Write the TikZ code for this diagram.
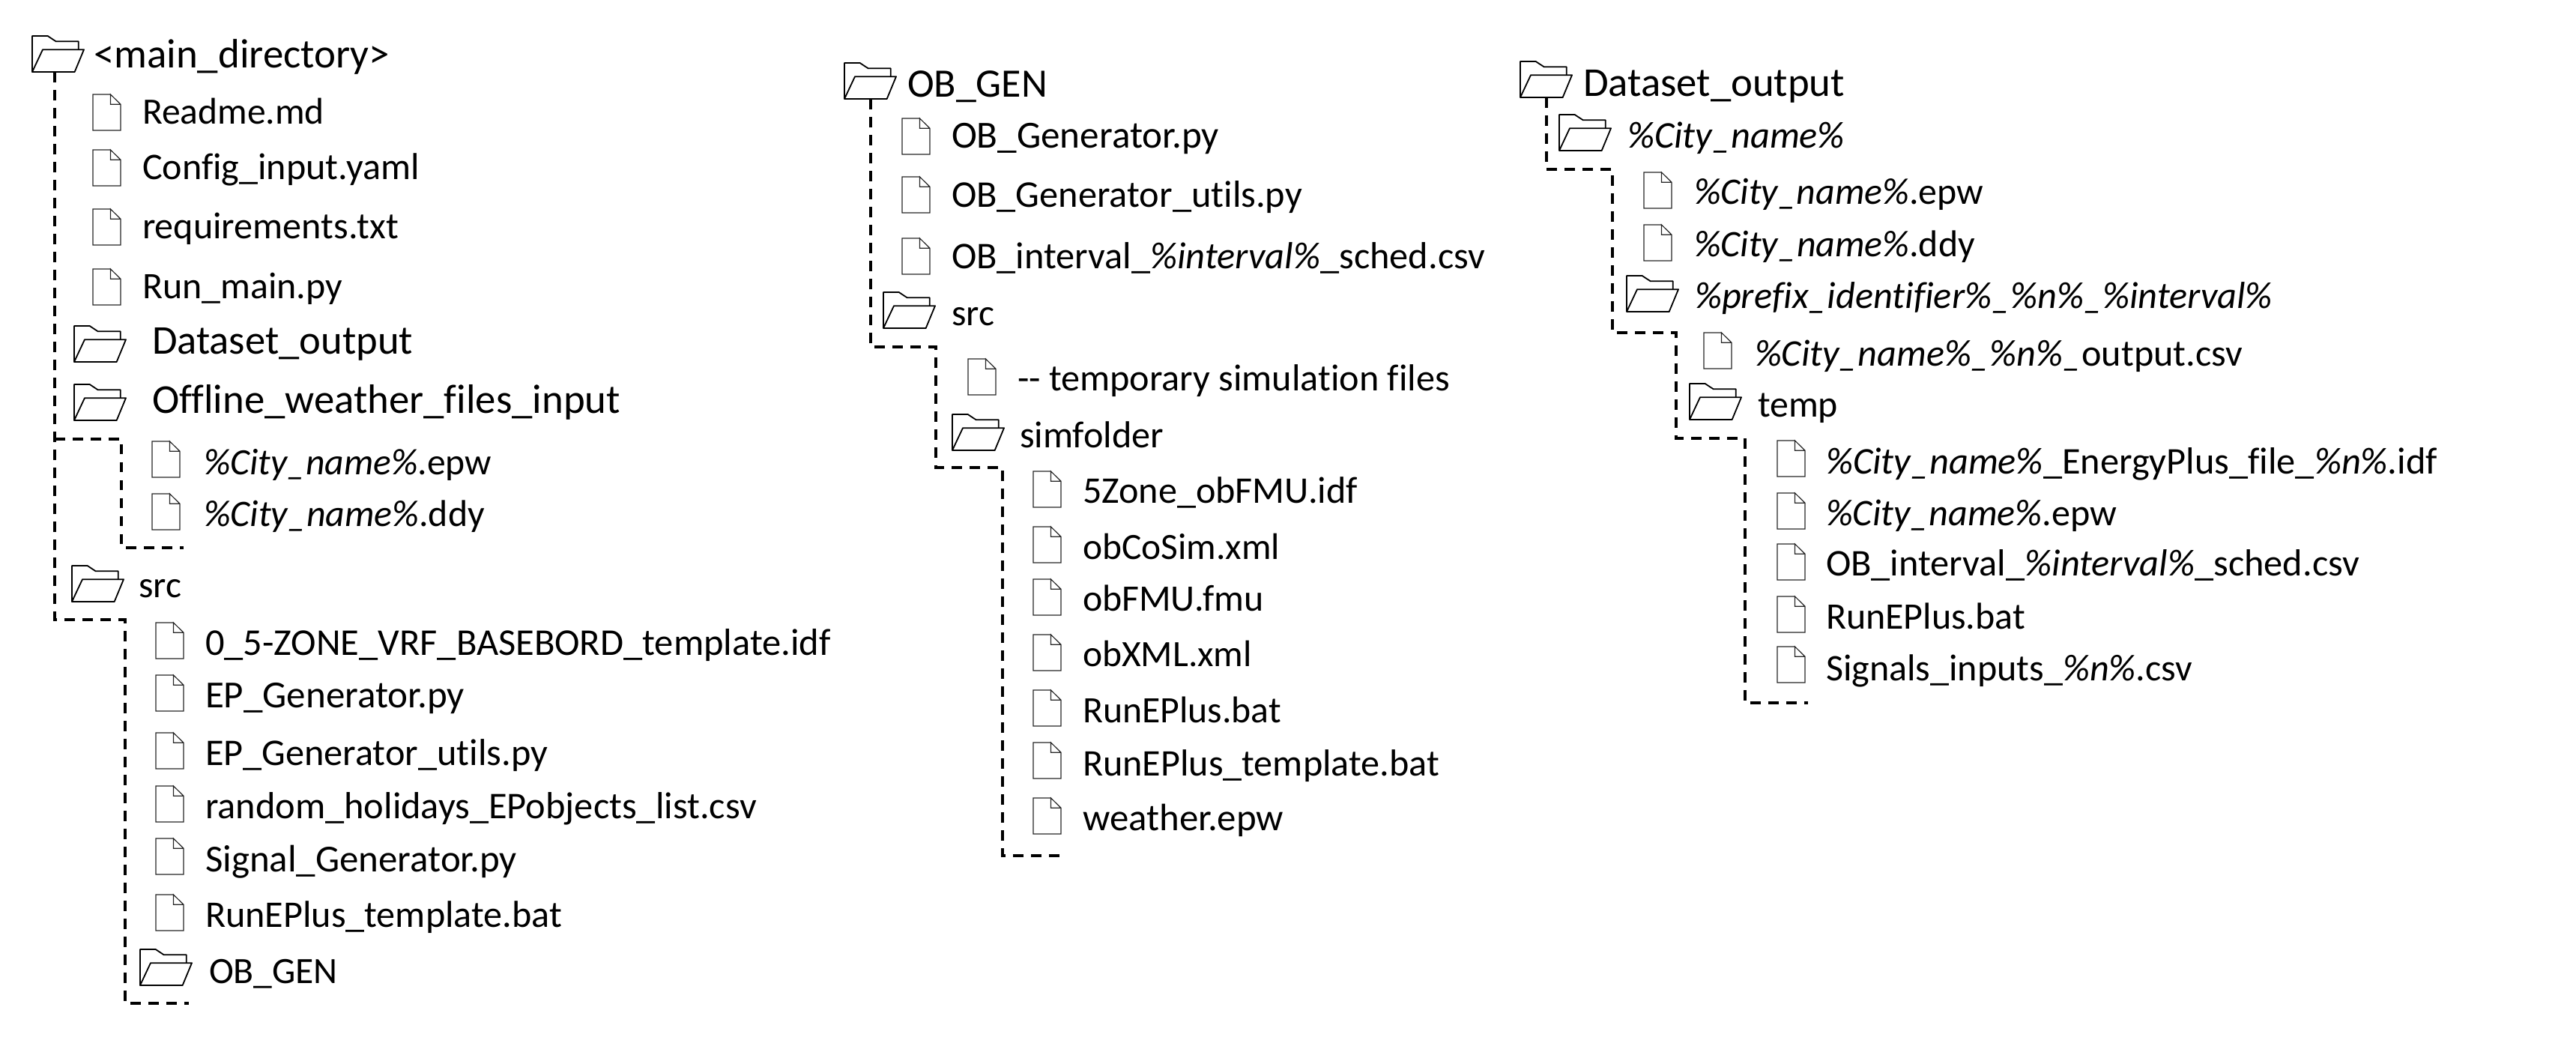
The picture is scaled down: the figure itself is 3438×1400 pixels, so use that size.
\documentclass[tikz,border=0pt]{standalone}
\usepackage{fontspec}
\setmainfont{Carlito}[Ligatures=NoCommon]
\newcommand{\fitto}[2]{\setbox0=\hbox{\fontsize{20pt}{24pt}\selectfont #2}%
  \pgfmathsetmacro{\fsz}{#1*0.5/\the\wd0*20}%
  \fontsize{\fsz pt}{\fsz pt}\selectfont #2}
\newcommand{\lbl}[5]{\node[lab] (#1) at (#2,#4+4) {\fitto{(#3-#2)}{#5}};}
\newcommand{\fileicon}[3]{%
  \node[filebox] (#1) at (#2+18.5,#3+24) {};
  \begin{scope}[shift={(#2,#3)},xscale=37/110,yscale=48/145]
    \draw[fileline] (70,0) -- (0,0) -- (0,145) -- (110,145) -- (110,40) -- (70,0) -- (70,40) -- (110,40);
  \end{scope}}
\newcommand{\foldericon}[3]{%
  \node[folderbox] (#1) at (#2+34.5,#3+24) {};
  \begin{scope}[shift={(#2,#3)},xscale=69/207,yscale=48/145]
    \draw[folderline] (0,145) -- (0,0) -- (62,0) -- (95,22) -- (185,22) -- (185,55);
    \draw[folderline] (0,145) -- (42,55) -- (207,55) -- (170,145) -- cycle;
  \end{scope}}
\tikzset{
  lab/.style={anchor=base west,inner sep=0pt,outer sep=0pt,text=black},
  filebox/.style={inner sep=0pt,minimum width=18.5pt,minimum height=24pt},
  folderbox/.style={inner sep=0pt,minimum width=34.5pt,minimum height=24pt},
  fileline/.style={draw=black!85,line width=0.6pt,line join=miter},
  folderline/.style={draw=black,line width=0.9pt,line join=round},
  branch/.style={draw=black,line width=1.6pt,dash pattern=on 6.75pt off 5.25pt}
}
\begin{document}
\begin{tikzpicture}[x=0.5pt,y=-0.5pt]
\useasboundingbox (0,0) rectangle (3438,1400);
% ---------- column 1
\foldericon{fmain}{43}{48}
\lbl{tmain}{125}{520}{87}{<main\_directory>}
\fileicon{a1}{124}{126}\lbl{ta1}{190}{433}{162}{Readme.md}
\fileicon{a2}{124}{200}\lbl{ta2}{190}{560}{236}{Config\_input.yaml}
\fileicon{a3}{124}{279}\lbl{ta3}{190}{532}{315}{requirements.txt}
\fileicon{a4}{124}{359}\lbl{ta4}{190}{457}{395}{Run\_main.py}
\foldericon{fds}{99}{435}\lbl{tfds}{203}{551}{469}{Dataset\_output}
\foldericon{fow}{99}{513}\lbl{tfow}{203}{828}{548}{Offline\_weather\_files\_input}
\fileicon{b1}{203}{589}\lbl{tb1}{272}{656}{630}{\textit{\%City\_name\%}.epw}
\fileicon{b2}{203}{659}\lbl{tb2}{272}{647}{699}{\textit{\%City\_name\%}.ddy}
\foldericon{fsrc}{96}{755}\lbl{tfsrc}{185}{242}{794}{src}
\fileicon{c1}{208}{831}\lbl{tc1}{274}{1109}{870}{0\_5-ZONE\_VRF\_BASEBORD\_template.idf}
\fileicon{c2}{208}{901}\lbl{tc2}{274}{620}{940}{EP\_Generator.py}
\fileicon{c3}{208}{978}\lbl{tc3}{274}{731}{1017}{EP\_Generator\_utils.py}
\fileicon{c4}{208}{1049}\lbl{tc4}{274}{1010}{1088}{random\_holidays\_EPobjects\_list.csv}
\fileicon{c5}{208}{1119}\lbl{tc5}{274}{690}{1159}{Signal\_Generator.py}
\fileicon{c6}{208}{1194}\lbl{tc6}{274}{750}{1233}{RunEPlus\_template.bat}
\foldericon{fob}{187}{1267}\lbl{tfob}{279}{451}{1308}{OB\_GEN}
\coordinate (e1) at (73,586);
\coordinate (e2) at (162,586);
\coordinate (e3) at (162,731);
\coordinate (e4) at (245,731);
\coordinate (e5) at (73,827);
\coordinate (e6) at (167,827);
\coordinate (e7) at (167,1339);
\coordinate (e8) at (252,1339);
\draw[branch] (e5 |- fmain.south) -- (e5) -- (e6) -- (e7) -- (e8);
\draw[branch] (e1) -- (e2) -- (e3) -- (e4);
% ---------- column 2
\foldericon{gob}{1127}{84}\lbl{tgob}{1211}{1398}{126}{OB\_GEN}
\fileicon{d1}{1204}{158}\lbl{td1}{1270}{1627}{194}{OB\_Generator.py}
\fileicon{d2}{1204}{236}\lbl{td2}{1270}{1738}{273}{OB\_Generator\_utils.py}
\fileicon{d3}{1204}{318}\lbl{td3}{1270}{1982}{355}{OB\_interval\_\textit{\%interval\%}\_sched.csv}
\foldericon{gsrc}{1179}{390}\lbl{tgsrc}{1270}{1327}{431}{src}
\fileicon{d4}{1292}{479}\lbl{td4}{1358}{1935}{518}{-{}- temporary simulation files}
\foldericon{gsim}{1271}{553}\lbl{tgsim}{1361}{1553}{594}{simfolder}
\fileicon{f1}{1379}{629}\lbl{tf1}{1445}{1812}{668}{5Zone\_obFMU.idf}
\fileicon{f2}{1379}{703}\lbl{tf2}{1445}{1708}{743}{obCoSim.xml}
\fileicon{f3}{1379}{773}\lbl{tf3}{1445}{1687}{812}{obFMU.fmu}
\fileicon{f4}{1379}{847}\lbl{tf4}{1445}{1671}{886}{obXML.xml}
\fileicon{f5}{1379}{921}\lbl{tf5}{1445}{1710}{960}{RunEPlus.bat}
\fileicon{f6}{1379}{991}\lbl{tf6}{1445}{1921}{1031}{RunEPlus\_template.bat}
\fileicon{f7}{1379}{1065}\lbl{tf7}{1445}{1713}{1104}{weather.epw}
\coordinate (g1) at (1162,463);
\coordinate (g2) at (1249,463);
\coordinate (g3) at (1249,624);
\coordinate (g4) at (1338,624);
\coordinate (g5) at (1338,1142);
\coordinate (g6) at (1419,1142);
\draw[branch] (g1 |- gob.south) -- (g1) -- (g2) -- (g3) -- (g4) -- (g5) -- (g6);
% ---------- column 3
\foldericon{hds}{2029}{82}\lbl{thds}{2113}{2462}{125}{Dataset\_output}
\foldericon{hcity}{2081}{153}\lbl{thcity}{2172}{2462}{194}{\textit{\%City\_name\%}}
\fileicon{j1}{2194}{230}\lbl{tj1}{2261}{2647}{269}{\textit{\%City\_name\%}.epw}
\fileicon{j2}{2194}{300}\lbl{tj2}{2261}{2636}{339}{\textit{\%City\_name\%}.ddy}
\foldericon{hpre}{2171}{368}\lbl{thpre}{2262}{3033}{408}{\textit{\%prefix\_identifier\%\_\%n\%\_\%interval\%}}
\fileicon{j3}{2274}{444}\lbl{tj3}{2342}{2993}{485}{\textit{\%City\_name\%\_\%n\%\_}output.csv}
\foldericon{htemp}{2255}{512}\lbl{thtemp}{2346}{2453}{553}{temp}
\fileicon{k1}{2372}{588}\lbl{tk1}{2437}{3253}{629}{\textit{\%City\_name\%}\_EnergyPlus\_file\_\textit{\%n\%}.idf}
\fileicon{k2}{2372}{658}\lbl{tk2}{2437}{2825}{698}{\textit{\%City\_name\%}.epw}
\fileicon{k3}{2372}{726}\lbl{tk3}{2437}{3149}{765}{OB\_interval\_\textit{\%interval\%}\_sched.csv}
\fileicon{k4}{2372}{796}\lbl{tk4}{2437}{2703}{836}{RunEPlus.bat}
\fileicon{k5}{2372}{863}\lbl{tk5}{2437}{2926}{904}{Signals\_inputs\_\textit{\%n\%}.csv}
\coordinate (h1) at (2064,226);
\coordinate (h2) at (2152,226);
\coordinate (h3) at (2152,444);
\coordinate (h4) at (2237,444);
\coordinate (h5) at (2237,585);
\coordinate (h6) at (2329,585);
\coordinate (h7) at (2329,938);
\coordinate (h8) at (2413,938);
\draw[branch] (h1 |- hds.south) -- (h1) -- (h2) -- (h3) -- (h4) -- (h5) -- (h6) -- (h7) -- (h8);
\end{tikzpicture}
\end{document}
